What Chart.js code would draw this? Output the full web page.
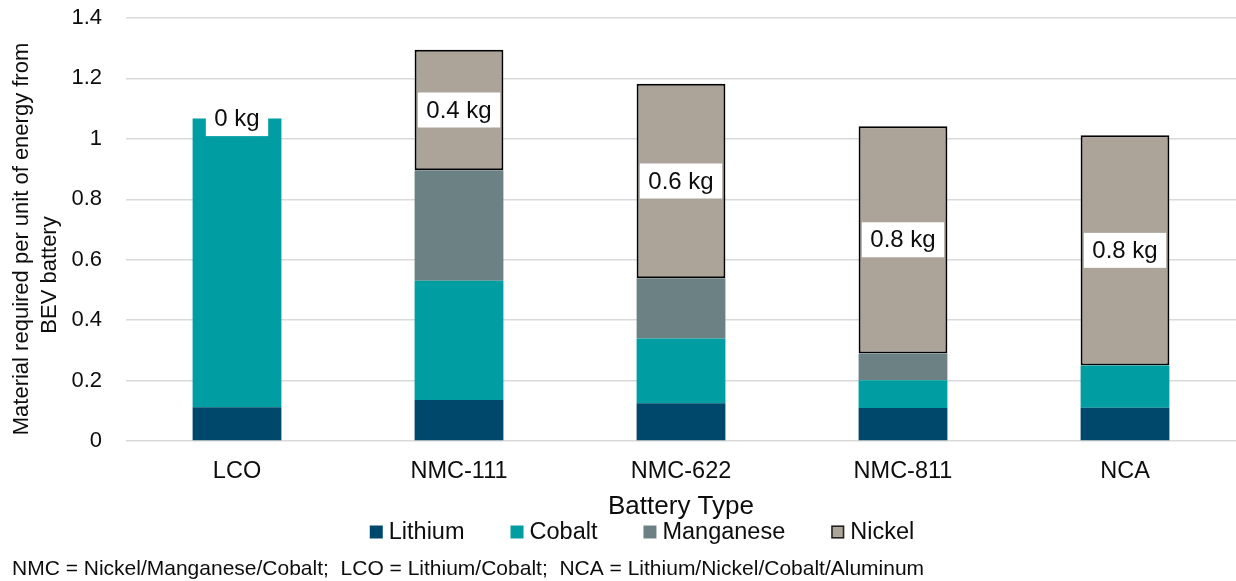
<!DOCTYPE html>
<html>
<head>
<meta charset="utf-8">
<script src="https://cdn.jsdelivr.net/npm/chart.js@4"></script>
<style>
  html, body { margin: 0; padding: 0; background: #fff; }
  canvas { display: block; }
</style>
</head>
<body>
<canvas id="myChart" width="1236" height="581"></canvas>
<script>
// data
const batteryTypes = ["LCO", "NMC-111", "NMC-622", "NMC-811", "NCA"];
const lithium   = [0.112, 0.136, 0.125, 0.109, 0.110];
const cobalt    = [0.955, 0.394, 0.214, 0.092, 0.140];
const manganese = [0,     0.366, 0.200, 0.089, 0];
const nickel    = [0,     0.399, 0.643, 0.752, 0.762];
const yTicks = [0, 0.2, 0.4, 0.6, 0.8, 1, 1.2, 1.4];

const yTitleLines = ["Material required per unit of energy from", "BEV battery"];
const footnote = "NMC = Nickel/Manganese/Cobalt;  LCO = Lithium/Cobalt;  NCA = Lithium/Nickel/Cobalt/Aluminum";

const FONT = "'Liberation Sans', Arial, sans-serif";
const TEXT = "#0d0d0d";

// white "x kg" boxes on the nickel segments
const kgLabels = {
  id: "kgLabels",
  afterDatasetsDraw(chart) {
    const ctx = chart.ctx;
    const meta = chart.getDatasetMeta(3);
    ctx.save();
    ctx.font = "24px " + FONT;
    ctx.textAlign = "center";
    ctx.textBaseline = "middle";
    meta.data.forEach((bar, i) => {
      const txt = Number(nickel[i].toFixed(1)) + " kg";
      const cy = (bar.y + bar.base) / 2;
      const w = ctx.measureText(txt).width + 17;
      const h = 35;
      ctx.fillStyle = "#fff";
      ctx.fillRect(bar.x - w / 2, cy - h / 2, w, h);
      ctx.fillStyle = TEXT;
      ctx.fillText(txt, bar.x, cy + 1);
    });
    ctx.restore();
  }
};

// y title (two lines, placed like the original), legend and footnote
const extras = {
  id: "extras",
  afterDraw(chart) {
    const ctx = chart.ctx;
    ctx.save();
    ctx.fillStyle = TEXT;
    ctx.textAlign = "center";
    ctx.textBaseline = "middle";
    ctx.font = "22px " + FONT;
    [[22, 239], [50, 275]].forEach((p, i) => {
      ctx.save();
      ctx.translate(p[0], p[1]);
      ctx.rotate(-Math.PI / 2);
      ctx.fillText(yTitleLines[i], 0, 0);
      ctx.restore();
    });

    // legend
    ctx.font = "23.5px " + FONT;
    ctx.textAlign = "left";
    const sets = chart.data.datasets;
    const box = 13, gap = 6, itemGap = 46;
    let total = 0;
    sets.forEach((ds, i) => {
      total += box + gap + ctx.measureText(ds.label).width;
      if (i < sets.length - 1) total += itemGap;
    });
    let x = 642 - total / 2;
    const ly = 532;
    sets.forEach(ds => {
      ctx.fillStyle = ds.backgroundColor;
      ctx.fillRect(x, ly - box / 2, box, box);
      if (ds.label === "Nickel") {
        ctx.strokeStyle = "#222";
        ctx.lineWidth = 1.5;
        ctx.strokeRect(x + 0.75, ly - box / 2 + 0.75, box - 1.5, box - 1.5);
      }
      ctx.fillStyle = TEXT;
      x += box + gap;
      ctx.fillText(ds.label, x, ly + 1);
      x += ctx.measureText(ds.label).width + itemGap;
    });

    // footnote
    ctx.font = "21px " + FONT;
    ctx.fillText(footnote, 12, 569);
    ctx.restore();
  }
};

const myChart = document.getElementById("myChart").getContext("2d");

new Chart(myChart, {
  type: "bar",
  data: {
    labels: batteryTypes,
    datasets: [
      { label: "Lithium", data: lithium, backgroundColor: "#00486b" },
      { label: "Cobalt", data: cobalt, backgroundColor: "#009ea3" },
      { label: "Manganese", data: manganese, backgroundColor: "#6c8184" },
      {
        label: "Nickel",
        data: nickel,
        backgroundColor: "#aca399",
        borderColor: "#000",
        borderWidth: (c) => (c.raw ? 2 : 0),
        borderSkipped: false,
      },
    ],
  },
  options: {
    responsive: false,
    animation: false,
    devicePixelRatio: 1,
    categoryPercentage: 1,
    barPercentage: 0.4,
    layout: { padding: { left: 66, right: 0, top: 18, bottom: 61 } },
    plugins: {
      legend: { display: false },
      tooltip: { enabled: false },
    },
    scales: {
      x: {
        stacked: true,
        grid: { display: false },
        border: { display: false },
        ticks: { color: TEXT, font: { family: FONT, size: 23.5 }, padding: 8 },
        title: {
          display: true,
          text: "Battery Type",
          color: TEXT,
          font: { family: FONT, size: 26, lineHeight: 1 },
          padding: { top: 0, bottom: 0 },
        },
        afterFit: (s) => { s.height = 79; },
      },
      y: {
        stacked: true,
        min: 0,
        max: 1.4,
        afterBuildTicks: (s) => { s.ticks = yTicks.map(v => ({ value: v })); },
        ticks: {
          color: TEXT,
          font: { family: FONT, size: 22 },
          padding: 24,
          callback: (v) => String(Number(v.toFixed(1))),
        },
        grid: { color: "#d9d9d9", lineWidth: 1.5, drawTicks: false },
        border: { display: false },
        afterFit: (s) => { s.width = 60; s.paddingTop = 0; s.paddingBottom = 0; },
      },
    },
  },
  plugins: [kgLabels, extras],
});
</script>
</body>
</html>
